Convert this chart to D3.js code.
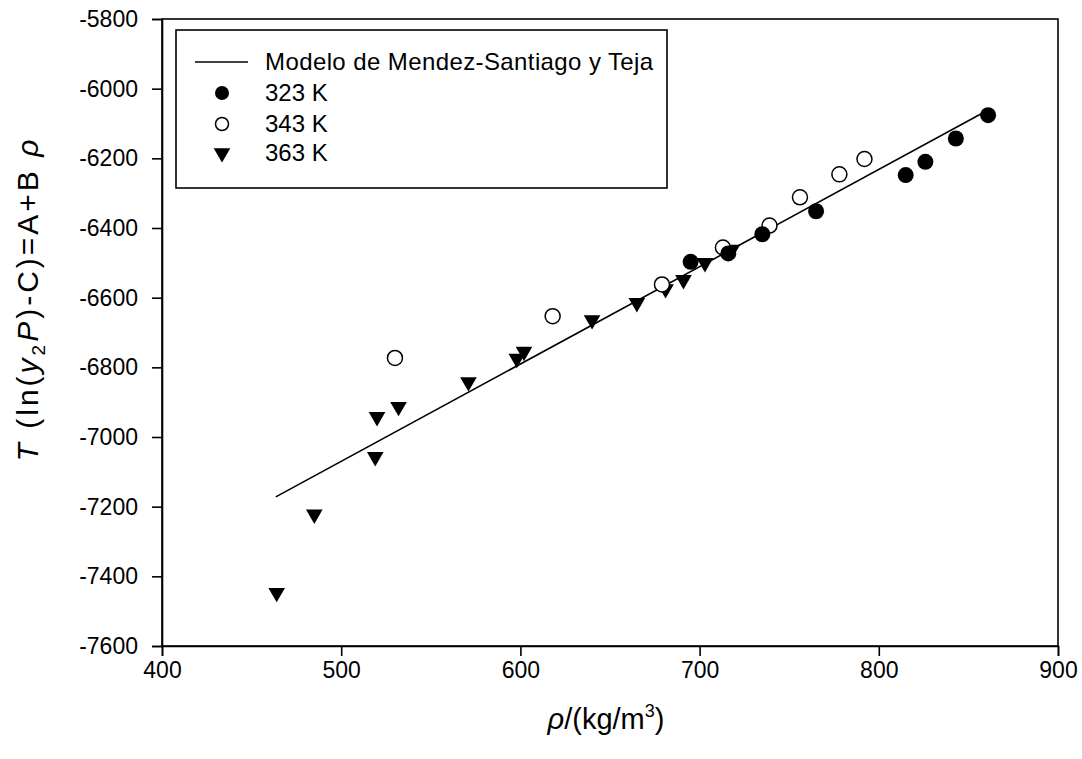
<!DOCTYPE html>
<html><head><meta charset="utf-8">
<script src="https://cdn.jsdelivr.net/npm/d3@7"></script>
<style>
body{margin:0;background:#fff}
text{font-family:"Liberation Sans",Arial,sans-serif;fill:#000}
</style>
</head><body>
<svg id="c" width="1082" height="759"></svg>
<script>
// ---- data ----
const xTicks = [400, 500, 600, 700, 800, 900];
const yTicks = [-5800, -6000, -6200, -6400, -6600, -6800, -7000, -7200, -7400, -7600];
const seriesNames = ["Modelo de Mendez-Santiago y Teja", "323 K", "343 K", "363 K"];
const modelLine = [[463.5, -7172], [860, -6064]];
const data323 = [[695,-6497],[716,-6473],[735,-6418],[765,-6352],[815,-6248],[826,-6210],[843,-6143],[861,-6076]];
const data343 = [[530,-6773],[618,-6653],[679,-6562],[713,-6456],[739,-6393],[756,-6312],[778,-6246],[792,-6202]];
const data363 = [[464,-7447],[485,-7222],[519,-7057],[520,-6942],[532,-6913],[571,-6842],[598,-6775],[602,-6755],[640,-6664],[665,-6615],[681,-6575],[691,-6549],[703,-6500],[718,-6462]];

// ---- layout ----
const svg = d3.select("#c");
const L = 162, R = 1058, T = 19, B = 646;
const x = d3.scaleLinear().domain([400, 900]).range([L, R]);
const y = d3.scaleLinear().domain([-7600, -5800]).range([B, T]);

// frame
svg.append("rect").attr("x", L).attr("y", T).attr("width", R - L).attr("height", B - T)
  .attr("fill", "none").attr("stroke", "#000").attr("stroke-width", 1.6);

// axes
const xa = svg.append("g").attr("transform", `translate(0,${B})`)
  .call(d3.axisBottom(x).tickValues(xTicks).tickSize(10).tickPadding(6).tickFormat(d3.format("d")));
const ya = svg.append("g").attr("transform", `translate(${L},0)`)
  .call(d3.axisLeft(y).tickValues(yTicks).tickSize(10).tickPadding(14).tickFormat(d => String(d)));
[xa, ya].forEach(g => {
  g.select(".domain").attr("stroke", "#000").attr("stroke-width", 1.6);
  g.selectAll(".tick line").attr("stroke", "#000").attr("stroke-width", 1.6);
  g.selectAll(".tick text").attr("font-size", 23).attr("font-family", "Liberation Sans, Arial, sans-serif").attr("fill", "#000");
});

// model line
svg.append("path").datum(modelLine)
  .attr("d", d3.line().x(d => x(d[0])).y(d => y(d[1])))
  .attr("fill", "none").attr("stroke", "#000").attr("stroke-width", 1.6);

const tri = d3.symbol().type(d3.symbolTriangle).size(120);

// points
svg.append("g").selectAll("path").data(data363).join("path")
  .attr("d", tri)
  .attr("transform", d => `translate(${x(d[0])},${y(d[1])}) rotate(180)`)
  .attr("fill", "#000");
svg.append("g").selectAll("circle").data(data343).join("circle")
  .attr("cx", d => x(d[0])).attr("cy", d => y(d[1])).attr("r", 7.5)
  .attr("fill", "#fff").attr("stroke", "#000").attr("stroke-width", 1.5);
svg.append("g").selectAll("circle").data(data323).join("circle")
  .attr("cx", d => x(d[0])).attr("cy", d => y(d[1])).attr("r", 8)
  .attr("fill", "#000");

// legend
const lg = svg.append("g");
lg.append("rect").attr("x", 176).attr("y", 30).attr("width", 491).attr("height", 158)
  .attr("fill", "#fff").attr("stroke", "#000").attr("stroke-width", 1.6);
const rows = [62, 93, 124, 153];
lg.append("line").attr("x1", 195).attr("x2", 248).attr("y1", rows[0]).attr("y2", rows[0])
  .attr("stroke", "#000").attr("stroke-width", 1.6);
lg.append("circle").attr("cx", 222).attr("cy", rows[1]).attr("r", 7).attr("fill", "#000");
lg.append("circle").attr("cx", 222).attr("cy", rows[2]).attr("r", 6.5).attr("fill", "#fff").attr("stroke", "#000").attr("stroke-width", 1.5);
lg.append("path").attr("d", tri).attr("transform", `translate(222,${rows[3]}) rotate(180)`).attr("fill", "#000");
seriesNames.forEach((n, i) => {
  lg.append("text").attr("x", 265).attr("y", rows[i]).attr("dy", "0.35em")
    .attr("font-size", 24).attr("letter-spacing", i === 0 ? 0.4 : 0).text(n);
});

// x axis title
const xt = svg.append("text").attr("x", 606).attr("y", 729).attr("text-anchor", "middle").attr("font-size", 29);
xt.append("tspan").attr("font-style", "italic").text("ρ");
xt.append("tspan").text("/(kg/m");
xt.append("tspan").attr("font-size", 18).attr("dy", -12).text("3");
xt.append("tspan").attr("dy", 12).text(")");

// y axis title
const yt = svg.append("text").attr("transform", "translate(38,299) rotate(-90)")
  .attr("text-anchor", "middle").attr("font-size", 30).attr("letter-spacing", 3);
yt.append("tspan").attr("font-style", "italic").text("T");
yt.append("tspan").text(" (ln(");
yt.append("tspan").attr("font-style", "italic").text("y");
yt.append("tspan").attr("font-size", 19).attr("dy", 7).text("2");
yt.append("tspan").attr("font-style", "italic").attr("dy", -7).text("P");
yt.append("tspan").text(")-C)=A+B ");
yt.append("tspan").attr("font-style", "italic").text("ρ");
</script>
</body></html>
